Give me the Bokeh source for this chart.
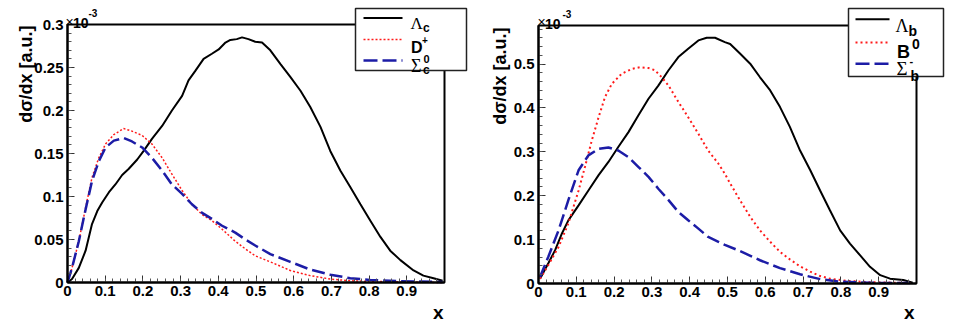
import math
from bokeh.plotting import figure
from bokeh.models import FixedTicker, Label, BoxAnnotation, Arrow, Range1d
from bokeh.layouts import row
from bokeh.embed import file_html
from bokeh.resources import INLINE

# ---------------- data (dsigma/dx in units of 1e-3) ----------------
# left panel: charm
lc_x = [0, 0.012, 0.03, 0.048, 0.065, 0.079, 0.092, 0.11, 0.127, 0.145, 0.162, 0.185, 0.202,
        0.224, 0.251, 0.277, 0.304, 0.321, 0.339, 0.361, 0.383, 0.401, 0.419, 0.432, 0.449,
        0.463, 0.48, 0.498, 0.516, 0.538, 0.565, 0.591, 0.618, 0.644, 0.671, 0.697, 0.724,
        0.75, 0.777, 0.803, 0.83, 0.856, 0.883, 0.918, 0.944, 0.971, 0.995]
lc_y = [0, 0.004, 0.017, 0.037, 0.068, 0.083, 0.093, 0.105, 0.114, 0.125, 0.132, 0.143, 0.153,
        0.167, 0.182, 0.2, 0.217, 0.235, 0.246, 0.26, 0.266, 0.271, 0.279, 0.282, 0.283,
        0.285, 0.283, 0.28, 0.279, 0.27, 0.254, 0.239, 0.223, 0.204, 0.181, 0.153, 0.13,
        0.111, 0.091, 0.072, 0.053, 0.037, 0.026, 0.014, 0.008, 0.005, 0.002]

dp_x = [0, 0.012, 0.03, 0.048, 0.065, 0.083, 0.101, 0.123, 0.149, 0.171, 0.198, 0.224, 0.251,
        0.277, 0.304, 0.33, 0.357, 0.383, 0.41, 0.445, 0.472, 0.498, 0.538, 0.591, 0.644,
        0.697, 0.75, 0.839, 0.995]
dp_y = [0, 0.017, 0.048, 0.087, 0.122, 0.145, 0.161, 0.172, 0.179, 0.176, 0.171, 0.161, 0.145,
        0.126, 0.107, 0.091, 0.079, 0.072, 0.062, 0.048, 0.039, 0.031, 0.024, 0.014, 0.008,
        0.004, 0.002, 0.001, 0]

sc_x = [0, 0.012, 0.03, 0.048, 0.065, 0.083, 0.101, 0.123, 0.149, 0.171, 0.198, 0.224, 0.251,
        0.277, 0.304, 0.33, 0.357, 0.383, 0.41, 0.445, 0.472, 0.498, 0.538, 0.591, 0.644,
        0.697, 0.75, 0.803, 0.883, 0.995]
sc_y = [0, 0.017, 0.048, 0.085, 0.118, 0.141, 0.157, 0.165, 0.168, 0.164, 0.157, 0.145, 0.13,
        0.114, 0.103, 0.091, 0.081, 0.074, 0.066, 0.058, 0.05, 0.043, 0.033, 0.024, 0.015,
        0.009, 0.005, 0.003, 0.0015, 0.0005]

# right panel: bottom
lb_x = [0.004, 0.026, 0.044, 0.062, 0.079, 0.106, 0.132, 0.159, 0.185, 0.211, 0.238, 0.264,
        0.291, 0.317, 0.344, 0.37, 0.396, 0.423, 0.445, 0.467, 0.493, 0.507, 0.533, 0.56,
        0.586, 0.613, 0.639, 0.665, 0.692, 0.719, 0.745, 0.771, 0.798, 0.824, 0.851, 0.877,
        0.904, 0.93, 0.965, 0.99]
lb_y = [0.011, 0.046, 0.076, 0.114, 0.144, 0.178, 0.212, 0.247, 0.277, 0.311, 0.345, 0.383,
        0.421, 0.451, 0.486, 0.516, 0.535, 0.554, 0.56, 0.56, 0.55, 0.546, 0.524, 0.501,
        0.47, 0.44, 0.402, 0.357, 0.303, 0.258, 0.212, 0.167, 0.121, 0.091, 0.064, 0.038,
        0.019, 0.011, 0.008, 0.002]

b0_x = [0.004, 0.026, 0.053, 0.079, 0.106, 0.123, 0.141, 0.159, 0.176, 0.194, 0.22, 0.247,
        0.269, 0.291, 0.308, 0.326, 0.344, 0.37, 0.396, 0.423, 0.449, 0.476, 0.493, 0.507,
        0.533, 0.56, 0.586, 0.613, 0.639, 0.665, 0.692, 0.719, 0.745, 0.771, 0.815, 0.877, 0.99]
b0_y = [0.011, 0.042, 0.083, 0.137, 0.212, 0.266, 0.326, 0.379, 0.425, 0.455, 0.478, 0.489,
        0.493, 0.491, 0.486, 0.47, 0.451, 0.414, 0.379, 0.341, 0.303, 0.273, 0.25, 0.228,
        0.19, 0.152, 0.121, 0.095, 0.072, 0.055, 0.039, 0.027, 0.017, 0.011, 0.006, 0.003, 0.001]

sb_x = [0.004, 0.026, 0.053, 0.079, 0.106, 0.132, 0.159, 0.185, 0.211, 0.238, 0.264, 0.291,
        0.317, 0.344, 0.37, 0.396, 0.423, 0.449, 0.476, 0.493, 0.533, 0.586, 0.639, 0.692,
        0.745, 0.798, 0.877, 0.99]
sb_y = [0.015, 0.061, 0.121, 0.19, 0.258, 0.292, 0.307, 0.31, 0.303, 0.288, 0.266, 0.243,
        0.216, 0.19, 0.163, 0.144, 0.125, 0.106, 0.095, 0.088, 0.074, 0.053, 0.035, 0.021,
        0.01, 0.004, 0.0015, 0.001]

# ticks
x_ticks = [0, 0.1, 0.2, 0.3, 0.4, 0.5, 0.6, 0.7, 0.8, 0.9]
x_tick_labels = ["0", "0.1", "0.2", "0.3", "0.4", "0.5", "0.6", "0.7", "0.8", "0.9"]
yl_ticks = [0, 0.05, 0.1, 0.15, 0.2, 0.25, 0.3]
yl_tick_labels = ["0", "0.05", "0.1", "0.15", "0.2", "0.25", "0.3"]
yr_ticks = [0, 0.1, 0.2, 0.3, 0.4, 0.5]
yr_tick_labels = ["0", "0.1", "0.2", "0.3", "0.4", "0.5"]

BLACK = "black"
RED = "#ff1a1a"
BLUE = "#1c1ca6"
SANS = "Liberation Sans"
SERIF = "Liberation Serif"


def make_panel(ymax, yticks, ylabels, yminor_step, geom, curves, legend):
    # geom: page pixels of the data frame (left, top, width, height) and of the canvas
    fl, ft, fw, fh, cl, ct, cw, ch = geom
    fb = ft + fh

    def dx(X):
        return (X - fl) / fw

    def dy(Y):
        return ymax * (fb - Y) / fh

    p = figure(frame_width=cw, frame_height=ch, min_border=0,
               x_range=Range1d(dx(cl), dx(cl + cw)), y_range=Range1d(dy(ct + ch), dy(ct)),
               output_backend="svg", toolbar_location=None,
               background_fill_color="white", border_fill_color="white")
    p.grid.visible = False
    p.outline_line_color = None

    xminor = [round(i * 0.02, 2) for i in range(51)]
    yminor = [round(i * yminor_step, 3) for i in range(int(round(ymax / yminor_step)) + 1)]
    p.xaxis.ticker = FixedTicker(ticks=x_ticks, minor_ticks=xminor)
    p.yaxis.ticker = FixedTicker(ticks=yticks, minor_ticks=yminor)
    p.xaxis.major_label_overrides = dict(zip(x_ticks, x_tick_labels))
    p.yaxis.major_label_overrides = dict(zip(yticks, ylabels))
    p.xaxis.fixed_location = 0
    p.yaxis.fixed_location = 0
    p.xaxis.bounds = (0, 1)
    p.yaxis.bounds = (0, ymax)
    for ax in (p.xaxis, p.yaxis):
        ax.axis_line_width = 2
        ax.major_tick_in = 7
        ax.major_tick_out = 0
        ax.minor_tick_in = 4
        ax.minor_tick_out = 0
        ax.major_tick_line_width = 1
        ax.minor_tick_line_width = 1
        ax.major_tick_line_color = "#333333"
        ax.minor_tick_line_color = "#555555"
        ax.major_label_text_font = SANS
        ax.major_label_text_font_style = "bold"
        ax.major_label_text_font_size = "15px"
        ax.major_label_text_color = "black"
    p.xaxis.major_label_standoff = 3
    p.yaxis.major_label_standoff = 4

    for xs, ys, color, width, dash in curves:
        p.line(xs, ys, line_color=color, line_width=width, line_dash=dash)

    # ROOT frame
    p.add_layout(BoxAnnotation(left=0, right=1, bottom=0, top=ymax, fill_alpha=0,
                               line_color="black", line_width=2, line_alpha=1))

    def lab(X, Y, text, size, font=SANS, style="bold", align="left", baseline="alphabetic",
            angle=0.0):
        p.add_layout(Label(x=dx(X), y=dy(Y), text=text, text_font=font, text_font_size=size,
                           text_font_style=style, text_align=align, text_baseline=baseline,
                           angle=angle, text_color="black"))

    # legend
    box, rows_ = legend
    p.add_layout(BoxAnnotation(left=dx(box[0]), right=dx(box[1]), top=dy(box[2]),
                               bottom=dy(box[3]), fill_color="white", fill_alpha=1.0,
                               line_color="#222222", line_width=1.5, line_alpha=1))
    for (x0, x1, Y, color, width, dash), texts in rows_:
        p.add_layout(Arrow(end=None, x_start=dx(x0), y_start=dy(Y), x_end=dx(x1), y_end=dy(Y),
                           line_color=color, line_width=width, line_dash=dash))
        for t in texts:
            lab(*t)
    return p, lab


# ---------------- left panel ----------------
left_curves = [
    (lc_x, lc_y, BLACK, 2, "solid"),
    (dp_x, dp_y, RED, 1.5, "2 2"),
    (sc_x, sc_y, BLUE, 2.5, "13 5"),
]
left_legend = (
    (355, 466, 8, 70),
    [
        ((363, 402, 17.5, BLACK, 2, "solid"),
         [(410, 22.7, "Λ", "17px", SERIF, "normal"), (422.5, 27, "c", "12px")]),
        ((363, 402, 39, RED, 1.5, "2 2"),
         [(410.5, 46.7, "D", "16px"), (421.5, 39.5, "+", "10px")]),
        ((363, 402, 60, BLUE, 2.5, "14 5"),
         [(410.5, 65.7, "Σ", "18px", SERIF, "normal"), (423, 58, "0", "11px"),
          (422.5, 69.5, "c", "12px")]),
    ],
)
p1, lab1 = make_panel(0.3, yl_ticks, yl_tick_labels, 0.01,
                      (67, 24, 377, 258, 0, 0, 478, 322), left_curves, left_legend)
lab1(25, 25, "dσ/dx [a.u.]", "18px", SANS, "bold", "right", "alphabetic", math.pi / 2)
lab1(443, 312, "x", "19px", SANS, "bold", "right")
lab1(65, 21, "×", "14px", SANS, "normal")
lab1(72.5, 22, "10", "14px")
lab1(88, 12.5, "-3", "10px")

# ---------------- right panel ----------------
right_curves = [
    (lb_x, lb_y, BLACK, 2, "solid"),
    (b0_x, b0_y, RED, 2, "2 3"),
    (sb_x, sb_y, BLUE, 2.5, "13 5"),
]
right_legend = (
    (848, 943, 8, 76),
    [
        ((855, 889, 18.7, BLACK, 2, "solid"),
         [(895, 25, "Λ", "18px", SERIF, "normal"), (908, 30, "b", "14px")]),
        ((855, 889, 42, RED, 2, "2 3"),
         [(896.5, 51.7, "B", "18px"), (911.5, 43.3, "0", "14px")]),
        ((855, 889, 63.3, BLUE, 2.5, "14 5"),
         [(896, 68.3, "Σ", "19px", SERIF, "normal"), (909, 60, "-", "11px"),
          (910, 75, "b", "14px")]),
    ],
)
p2, lab2 = make_panel(0.588, yr_ticks, yr_tick_labels, 0.02,
                      (538, 25, 378, 258, 478, 0, 474, 322), right_curves, right_legend)
lab2(499, 27, "dσ/dx [a.u.]", "18px", SANS, "bold", "right", "alphabetic", math.pi / 2)
lab2(914, 312, "x", "19px", SANS, "bold", "right")
lab2(537, 21, "×", "14px", SANS, "normal")
lab2(544.5, 23, "10", "14px")
lab2(562, 13.5, "-3", "10px")

layout = row(p1, p2)
open("out.html", "w").write(file_html(layout, INLINE))
